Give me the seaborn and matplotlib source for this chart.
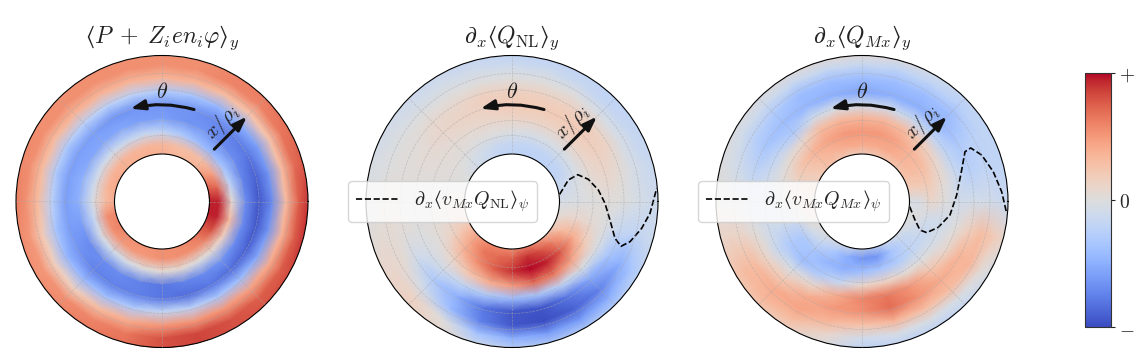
import numpy as np
import matplotlib
matplotlib.use("Agg")
import matplotlib.pyplot as plt
import seaborn as sns

# polar grid the maps were read on (angle in degrees, radius in pixels of the ring)
theta_deg = [0, 15, 30, 45, 60, 75, 90, 105, 120, 135, 150, 165,
             180, 195, 210, 225, 240, 255, 270, 285, 300, 315, 330, 345]
radius = [43, 57, 70, 84, 97, 110, 124, 137, 151]

pressure = [
    [.95, .95, .05, -.7, -.95, -.7, .3, .75, .95],
    [.8, .7, -.2, -.75, -.9, -.65, .3, .7, .8],
    [.6, .45, -.35, -.7, -.8, -.6, .25, .65, .7],
    [.4, .3, -.45, -.7, -.75, -.5, .25, .6, .65],
    [.35, .3, -.4, -.65, -.7, -.45, .3, .6, .6],
    [.35, .3, -.3, -.65, -.65, -.35, .35, .55, .55],
    [.4, .35, -.2, -.6, -.65, -.3, .35, .55, .55],
    [.4, .35, -.15, -.6, -.65, -.25, .35, .55, .55],
    [.4, .35, -.15, -.55, -.65, -.25, .35, .55, .55],
    [.4, .35, -.1, -.55, -.6, -.25, .35, .55, .55],
    [.45, .35, -.1, -.55, -.6, -.3, .3, .55, .55],
    [.45, .35, -.1, -.5, -.6, -.3, .3, .55, .6],
    [.45, .3, -.05, -.5, -.6, -.25, .3, .55, .65],
    [.6, .55, -.15, -.6, -.6, -.35, .2, .5, .6],
    [.65, .55, -.05, -.7, -.65, -.45, .15, .5, .55],
    [.6, .5, -.1, -.7, -.75, -.45, .15, .55, .6],
    [.55, .5, -.05, -.7, -.75, -.4, .3, .6, .65],
    [.55, .5, 0, -.75, -.75, -.3, .4, .65, .7],
    [.55, .55, .05, -.8, -.8, -.2, .5, .8, .8],
    [.55, .55, .05, -.75, -.85, -.25, .5, .85, .85],
    [.6, .55, 0, -.7, -.8, -.35, .5, .8, .8],
    [.7, .6, .05, -.65, -.85, -.4, .45, .75, .8],
    [.8, .8, .15, -.7, -.9, -.55, .4, .75, .85],
    [.95, .95, .3, -.7, -.95, -.65, .35, .75, .95],
]
q_nl = [
    [-.05, -.05, -.02, 0, .02, 0, -.05, -.1, -.12],
    [-.15, -.1, -.02, .05, .1, .05, -.05, -.12, -.15],
    [-.22, -.18, -.05, .1, .15, .12, -.05, -.15, -.2],
    [-.22, -.2, -.05, .12, .2, .15, -.05, -.18, -.2],
    [-.22, -.2, -.05, .12, .2, .15, 0, -.15, -.2],
    [-.22, -.2, -.05, .12, .2, .15, 0, -.12, -.22],
    [-.22, -.18, -.02, .12, .2, .15, 0, -.12, -.22],
    [-.2, -.15, 0, .1, .15, .15, 0, -.1, -.18],
    [-.15, -.1, 0, .08, .12, .1, 0, -.08, -.15],
    [-.1, -.05, .02, .05, .1, .08, 0, -.08, -.12],
    [-.03, 0, .03, .04, .05, .03, 0, -.05, -.1],
    [0, 0, .02, .02, .02, .02, 0, -.03, -.05],
    [.05, .05, .03, .02, 0, .02, .05, 0, -.03],
    [.12, .1, .06, .03, 0, .03, .05, .05, 0],
    [.25, .22, .12, .02, -.05, -.1, .05, .1, .1],
    [.45, .45, .35, .1, -.1, -.3, -.1, .12, .15],
    [.55, .65, .55, .25, -.2, -.5, -.4, 0, .1],
    [.55, .7, .75, .4, -.3, -.8, -.75, -.35, -.05],
    [.45, .75, .9, .5, -.4, -.95, -.95, -.5, -.15],
    [.5, .9, 1, .7, -.35, -.95, -1, -.6, -.2],
    [.45, .8, .95, .65, -.2, -.8, -.9, -.6, -.2],
    [.25, .6, .75, .45, -.05, -.55, -.75, -.5, -.2],
    [.1, .3, .4, .2, -.05, -.35, -.5, -.35, -.15],
    [0, .08, .1, .05, -.02, -.15, -.2, -.15, -.1],
]
q_mx = [
    [-.05, -.05, .1, 0, -.1, -.08, -.08, -.12, -.15],
    [.15, .2, .2, .05, -.12, -.25, -.2, -.2, -.2],
    [.25, .3, .3, .1, -.2, -.3, -.25, -.2, -.2],
    [.2, .35, .35, .2, -.2, -.45, -.4, -.25, -.15],
    [.15, .4, .45, .3, -.15, -.5, -.4, -.2, -.05],
    [.15, .4, .5, .35, -.1, -.5, -.4, -.2, .05],
    [.1, .4, .5, .35, -.1, -.55, -.4, -.15, .08],
    [.1, .4, .5, .35, -.05, -.5, -.4, -.15, .08],
    [.2, .35, .45, .3, -.1, -.45, -.4, -.15, .05],
    [.25, .3, .35, .1, -.3, -.4, -.3, -.12, .03],
    [.15, .2, .25, .05, -.2, -.35, -.25, -.1, 0],
    [.15, .15, .1, 0, -.12, -.2, -.12, -.05, .02],
    [.1, .1, .05, -.02, -.1, -.1, -.02, 0, .05],
    [.1, .05, -.1, -.1, -.1, 0, .1, .12, .1],
    [.05, -.05, -.3, -.3, -.15, .1, .3, .3, .2],
    [.02, -.15, -.35, -.4, -.05, .2, .4, .35, .2],
    [.02, -.3, -.45, -.3, .1, .4, .45, .3, .1],
    [0, -.5, -.5, -.15, .4, .5, .35, .1, -.05],
    [-.05, -.65, -.4, .1, .6, .55, .25, -.1, -.25],
    [-.1, -.65, -.35, .15, .65, .7, .35, -.05, -.25],
    [-.05, -.35, -.3, .05, .5, .55, .3, -.05, -.25],
    [-.02, -.2, -.2, 0, .25, .4, .3, -.05, -.2],
    [0, -.1, -.15, -.05, .1, .35, .35, .05, -.1],
    [0, 0, -.1, -.1, 0, .15, .3, .2, .05],
]

# dashed flux curves, angle against radius
curve_nl_r = [48.2, 60.3, 71, 79.5, 87.1, 93, 99.7, 109.4, 117.9, 124.7, 132.4, 138.5, 145.3]
curve_nl_theta = [8.6, 20.9, 22.2, 16.2, 7.6, -1.1, -10.7, -19.7, -22.3, -18.8, -11.7, -4.9, 5.2]
curve_mx_r = [48, 56.1, 64.6, 71.8, 80.5, 89, 94.9, 104.5, 114.4, 121.2, 128.4, 134.6, 140, 145.2]
curve_mx_theta = [-6.2, -19.2, -26.2, -25.7, -18.7, -8.7, 3.9, 17.5, 25.8, 26.2, 21.2, 12.8, 4, -4.7]

# brackets typed as characters, \langle comes out oversized in the cm fontset
titles = ["$\u27e8P\\;+\\;Z_i e n_i \\varphi\u27e9_y$",
          "$\\partial_x\u27e8Q_{\\mathrm{NL}}\u27e9_y$",
          "$\\partial_x\u27e8Q_{Mx}\u27e9_y$"]
curve_labels = [None,
                "$\\partial_x\u27e8v_{Mx} Q_{\\mathrm{NL}}\u27e9_\\psi$",
                "$\\partial_x\u27e8v_{Mx} Q_{Mx}\u27e9_\\psi$"]
grid_circles = [66, 81, 97, 112, 128]

sns.set_theme(style="white")
plt.rcParams["mathtext.fontset"] = "cm"
cmap = sns.color_palette("coolwarm", as_cmap=True)

W, H = 1136, 360
fig = plt.figure(figsize=(W / 100, H / 100), dpi=100)

T, R = np.meshgrid(np.radians(theta_deg + [360]), radius, indexing="ij")
fields = [pressure, q_nl, q_mx]
curves = [None, (curve_nl_theta, curve_nl_r), (curve_mx_theta, curve_mx_r)]
centers = [162, 512, 862]

for i, cx in enumerate(centers):
    ax = fig.add_axes([(cx - 146) / W, (H - 347.5) / H, 292 / W, 292 / H], projection="polar")
    Z = np.array(fields[i])
    Z = np.vstack([Z, Z[0]])
    mesh = ax.pcolormesh(T, R, Z, cmap=cmap, vmin=-1, vmax=1, shading="gouraud")
    ax.set_rorigin(0)
    ax.set_ylim(47.5, 146)
    ax.set_yticks(grid_circles)
    ax.set_xticks(np.radians(np.arange(0, 360, 45)))
    ax.set_xticklabels([])
    ax.set_yticklabels([])
    ax.grid(True, color="#a8a8a8", ls="--", lw=0.5, alpha=0.6)
    ax.set_axisbelow(False)
    for sp in ax.spines.values():
        sp.set_edgecolor("black")
        sp.set_linewidth(0.8)
    ax.set_title(titles[i], fontsize=17, pad=9, color="#222222")

    # theta and x/rho markers
    ax.annotate("", xy=(np.radians(108.7), 98), xytext=(np.radians(70.8), 97.4),
                arrowprops=dict(arrowstyle="-|>,head_length=0.7,head_width=0.25", color="#111111", lw=2.2,
                                connectionstyle="arc3,rad=0.13", shrinkA=0, shrinkB=0))
    ax.annotate("", xy=(np.radians(45), 120), xytext=(np.radians(45), 74),
                arrowprops=dict(arrowstyle="-|>,head_length=0.7,head_width=0.25", color="#111111", lw=2.2,
                                shrinkA=0, shrinkB=0))
    ax.text(np.radians(90), 110, r"$\theta$", fontsize=16, ha="center", va="center", color="#222222")
    ax.text(np.radians(52.8), 99, r"$x/\rho_i$", fontsize=15, rotation=45,
            ha="center", va="center", color="#222222")

    if curves[i] is not None:
        ax.plot(np.radians(curves[i][0]), curves[i][1], color="black", ls="--", lw=1.2,
                label=curve_labels[i])
        ax.legend(loc="center left", bbox_to_anchor=((cx - 164) / W, (H - 201.5) / H),
                  bbox_transform=fig.transFigure, fontsize=14.3, frameon=True, framealpha=0.8,
                  borderaxespad=0, handlelength=2.1, handletextpad=0.8)

cax = fig.add_axes([1084.5 / W, (H - 327) / H, 26.5 / W, 254 / H])
cb = fig.colorbar(mesh, cax=cax, ticks=[-1, 0, 1])
cb.ax.set_yticklabels(["$-$", "$0$", "$+$"], fontsize=14)
cb.ax.tick_params(right=True, length=3, width=0.8, pad=3)
cb.outline.set_edgecolor("#333333")
cb.outline.set_linewidth(0.8)

fig.savefig("out.png", dpi=100)
